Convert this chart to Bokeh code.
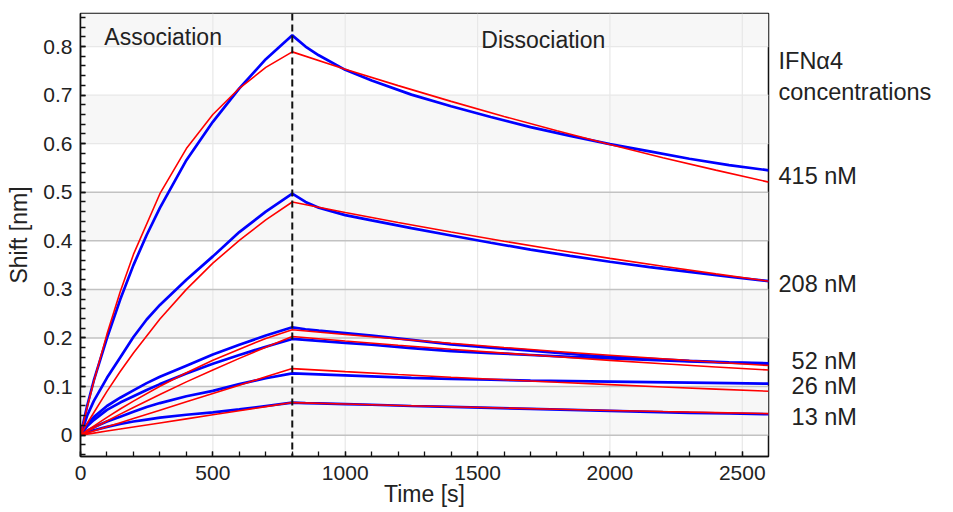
import math
from bokeh.plotting import figure
from bokeh.models import Label, Span, BoxAnnotation, FixedTicker, Range1d, LinearAxis
from bokeh.embed import file_html
from bokeh.resources import INLINE

# ---- measured data (blue) ----
t_data = [0, 25, 50, 100, 150, 200, 250, 300, 400, 500, 600, 700, 800,
          850, 900, 1000, 1100, 1250, 1400, 1550, 1700, 1850, 2000, 2150, 2300, 2450, 2600]
data_415 = [0, 0.06, 0.112, 0.2, 0.279, 0.350, 0.412, 0.468, 0.566, 0.645, 0.714, 0.774, 0.823,
            0.800, 0.782, 0.752, 0.730, 0.701, 0.677, 0.655, 0.634, 0.616, 0.599, 0.584, 0.569, 0.556, 0.545]
data_208 = [0, 0.04, 0.07, 0.118, 0.16, 0.202, 0.238, 0.268, 0.32, 0.368, 0.418, 0.46, 0.497,
            0.480, 0.468, 0.453, 0.442, 0.426, 0.411, 0.396, 0.382, 0.369, 0.357, 0.346, 0.336, 0.326, 0.317]
data_c3 = [0, 0.022, 0.037, 0.06, 0.077, 0.092, 0.107, 0.12, 0.143, 0.166, 0.186, 0.205, 0.222,
           0.218, 0.215, 0.210, 0.205, 0.196, 0.187, 0.180, 0.174, 0.167, 0.161, 0.157, 0.153, 0.150, 0.148]
data_52 = [0, 0.018, 0.031, 0.052, 0.067, 0.08, 0.093, 0.105, 0.127, 0.147, 0.165, 0.182, 0.198,
           0.196, 0.194, 0.190, 0.186, 0.179, 0.173, 0.169, 0.165, 0.161, 0.158, 0.155, 0.152, 0.149, 0.147]
data_26 = [0, 0.009, 0.016, 0.028, 0.038, 0.048, 0.058, 0.066, 0.080, 0.091, 0.105, 0.117, 0.127,
           0.126, 0.125, 0.123, 0.121, 0.118, 0.116, 0.114, 0.112, 0.111, 0.110, 0.109, 0.108, 0.107, 0.106]
data_13 = [0, 0.006, 0.01, 0.017, 0.023, 0.028, 0.032, 0.036, 0.042, 0.047, 0.053, 0.06, 0.067,
           0.066, 0.0655, 0.064, 0.0625, 0.060, 0.058, 0.056, 0.054, 0.052, 0.050, 0.048, 0.046, 0.0445, 0.043]

# ---- fitted curves (red) ----
t_fit = [0, 25, 50, 100, 150, 200, 300, 400, 500, 600, 700, 800,
         1000, 1200, 1400, 1600, 1800, 2000, 2200, 2400, 2600]
fit_415 = [0, 0.057, 0.11, 0.208, 0.295, 0.372, 0.497, 0.59, 0.66, 0.714, 0.757, 0.789,
           0.7534, 0.7195, 0.6871, 0.6561, 0.6265, 0.5982, 0.5712, 0.5455, 0.5209]
fit_208 = [0, 0.024, 0.046, 0.09, 0.131, 0.169, 0.239, 0.30, 0.354, 0.401, 0.443, 0.48,
           0.4584, 0.4377, 0.4180, 0.3991, 0.3811, 0.3639, 0.3475, 0.3319, 0.3169]
fit_c3 = [0, 0.0095, 0.0187, 0.0366, 0.0537, 0.070, 0.1006, 0.1285, 0.154, 0.177, 0.199, 0.217,
          0.2072, 0.1979, 0.1890, 0.1804, 0.1723, 0.1645, 0.1571, 0.1500, 0.1433]
fit_52 = [0, 0.0074, 0.0147, 0.029, 0.0432, 0.057, 0.0838, 0.1096, 0.134, 0.158, 0.181, 0.203,
          0.1938, 0.1851, 0.1768, 0.1688, 0.1612, 0.1539, 0.1470, 0.1404, 0.1340]
fit_26 = [0, 0.0043, 0.0086, 0.0171, 0.0257, 0.0343, 0.0514, 0.0685, 0.0856, 0.1028, 0.12, 0.137,
          0.1308, 0.1249, 0.1193, 0.1139, 0.1088, 0.1039, 0.0992, 0.0947, 0.0904]
fit_13 = [0, 0.0021, 0.0042, 0.0084, 0.0126, 0.0168, 0.0251, 0.0335, 0.0419, 0.0503, 0.0586, 0.067,
          0.0640, 0.0611, 0.0583, 0.0557, 0.0532, 0.0508, 0.0485, 0.0463, 0.0442]

x_ticks = [0, 500, 1000, 1500, 2000, 2500]
y_ticks = [0, 0.1, 0.2, 0.3, 0.4, 0.5, 0.6, 0.7, 0.8]
y_tick_labels = ["0", "0.1", "0.2", "0.3", "0.4", "0.5", "0.6", "0.7", "0.8"]
switch_time = 800

# right-hand annotations (positions on the shift axis)
right_texts = ["IFNα4", "concentrations", "415 nM", "208 nM",
               "\u200752 nM", "\u200726 nM", "\u200713 nM"]
right_y = [0.770, 0.707, 0.534, 0.312, 0.153, 0.101, 0.037]

FONT = "Liberation Sans"
TXT = "#222222"

p = figure(width=953, height=512, output_backend="svg", toolbar_location=None,
           x_range=Range1d(0, 2599), y_range=Range1d(-0.044, 0.868),
           min_border_left=80, min_border_right=185, min_border_top=13, min_border_bottom=56)
p.background_fill_color = "white"
p.border_fill_color = "white"
p.outline_line_color = "#111111"
p.outline_line_width = 1.5
p.xgrid.grid_line_color = None
p.ygrid.grid_line_color = None

# background bands
for lo, hi in [(0, 0.1), (0.2, 0.3), (0.4, 0.5), (0.6, 0.7), (0.8, None)]:
    p.add_layout(BoxAnnotation(bottom=lo, top=hi, fill_color="#f7f7f7", fill_alpha=1,
                               line_color=None, level="underlay"))
# grid lines
for xv in x_ticks[1:]:
    p.add_layout(Span(location=xv, dimension="height", line_color="#e8e8e8",
                      line_width=1.2, level="underlay"))
for yv in y_ticks:
    if yv <= 0.5:
        p.add_layout(Span(location=yv, dimension="width", line_color="#c2c2c2",
                          line_width=1.5, level="underlay"))
    else:
        p.add_layout(Span(location=yv, dimension="width", line_color="#e8e8e8",
                          line_width=1.2, level="underlay"))

for d in [data_415, data_208, data_c3, data_52, data_26, data_13]:
    p.line(t_data, d, line_color="#0000ff", line_width=2.7)
for f in [fit_415, fit_208, fit_c3, fit_52, fit_26, fit_13]:
    p.line(t_fit, f, line_color="#ff0000", line_width=1.6)

p.add_layout(Span(location=switch_time, dimension="height", line_color="#111111",
                  line_width=2, line_dash="7 4"))

for ax in (p.xaxis[0], p.yaxis[0]):
    ax.axis_line_color = "#111111"
    ax.axis_line_width = 1.5
    ax.major_tick_in = 5
    ax.major_tick_out = 0
    ax.minor_tick_in = 5
    ax.minor_tick_out = 0
    ax.major_tick_line_color = "#111111"
    ax.minor_tick_line_color = "#111111"
    ax.major_tick_line_width = 1.3
    ax.minor_tick_line_width = 1.3
    ax.major_label_text_font = FONT
    ax.major_label_text_font_size = "21px"
    ax.major_label_text_color = TXT
    ax.axis_label_text_font = FONT
    ax.axis_label_text_font_size = "23px"
    ax.axis_label_text_font_style = "normal"
    ax.axis_label_text_color = TXT

p.xaxis.ticker = FixedTicker(ticks=x_ticks, minor_ticks=list(range(0, 2601, 100)))
p.yaxis.ticker = FixedTicker(ticks=y_ticks,
                             minor_ticks=[round(-0.04 + 0.02 * i, 2) for i in range(46)])
p.yaxis.major_label_overrides = {v: s for v, s in zip(y_ticks, y_tick_labels)}
p.xaxis.major_label_standoff = 9
p.yaxis.major_label_standoff = 8
p.xaxis.axis_label = "Time [s]"
p.yaxis.axis_label = "Shift [nm]"
p.xaxis.axis_label_standoff = -2
p.yaxis.axis_label_standoff = 8

# right axis used only to carry the concentration labels
rax = LinearAxis(ticker=FixedTicker(ticks=right_y, minor_ticks=[]),
                 major_label_overrides={v: s for v, s in zip(right_y, right_texts)})
rax.axis_line_color = None
rax.major_tick_line_color = None
rax.minor_tick_line_color = None
rax.major_tick_in = 0
rax.major_tick_out = 0
rax.major_label_standoff = 10
rax.major_label_text_font = FONT
rax.major_label_text_font_size = "23.5px"
rax.major_label_text_color = TXT
p.add_layout(rax, "right")

def lab(x, y, text, size="23px"):
    p.add_layout(Label(x=x, y=y, text=text, text_font=FONT, text_font_size=size,
                       text_color=TXT, text_align="left", text_baseline="middle"))

lab(90, 0.819, "Association")
lab(1514, 0.813, "Dissociation")

open("out.html", "w").write(file_html(p, INLINE))
